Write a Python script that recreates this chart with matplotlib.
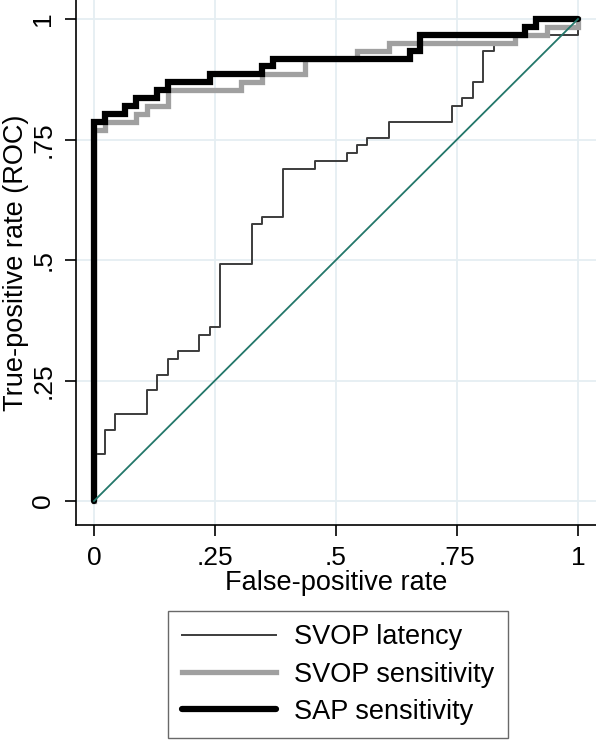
import matplotlib
matplotlib.use("Agg")
import matplotlib.pyplot as plt

plt.rcParams['font.family'] = ['Liberation Sans', 'DejaVu Sans']

# ROC step curves: x = left edge of each horizontal run, y = level of that run (steps-post)
latency_fpr = [0.0, 0.0, 0.022, 0.043, 0.109, 0.130, 0.152, 0.174, 0.217, 0.239, 0.261,
               0.326, 0.348, 0.391, 0.457, 0.522, 0.543, 0.565, 0.609, 0.739, 0.761,
               0.783, 0.804, 0.826, 0.870, 1.0]
latency_tpr = [0.0, 0.098, 0.148, 0.180, 0.230, 0.262, 0.295, 0.311, 0.344, 0.361, 0.492,
               0.574, 0.590, 0.689, 0.705, 0.721, 0.738, 0.754, 0.787, 0.820, 0.836,
               0.869, 0.934, 0.951, 0.967, 1.0]

svop_fpr = [0.0, 0.0, 0.022, 0.087, 0.109, 0.152, 0.304, 0.348, 0.435, 0.543, 0.609,
            0.870, 0.935, 1.0]
svop_tpr = [0.0, 0.770, 0.787, 0.803, 0.820, 0.852, 0.869, 0.885, 0.918, 0.934, 0.951,
            0.967, 0.984, 1.0]

sap_fpr = [0.0, 0.0, 0.022, 0.065, 0.087, 0.130, 0.152, 0.239, 0.348, 0.370, 0.652,
           0.674, 0.891, 0.913, 1.0]
sap_tpr = [0.0, 0.787, 0.803, 0.820, 0.836, 0.852, 0.869, 0.885, 0.902, 0.918, 0.934,
           0.967, 0.984, 1.0, 1.0]

ref_line = [0.0, 1.0]

series_labels = ["SVOP latency", "SVOP sensitivity", "SAP sensitivity"]
tick_values = [0, 0.25, 0.5, 0.75, 1]
tick_labels = ["0", ".25", ".5", ".75", "1"]
x_title = "False-positive rate"
y_title = "True-positive rate (ROC)"

W, H = 596, 743
fig = plt.figure(figsize=(W / 100, H / 100), dpi=100)
ax = fig.add_axes([76 / W, (H - 525) / H, 520 / W, 525 / H])

grid_c = "#e5eef2"
for v in tick_values:
    ax.axhline(v, color=grid_c, lw=1.3, zorder=0)
    ax.axvline(v, color=grid_c, lw=1.3, zorder=0)

l1, = ax.plot(latency_fpr, latency_tpr, drawstyle="steps-post", color="#3c3c3c",
              lw=1.4, zorder=2, label=series_labels[0])
l2, = ax.plot(svop_fpr, svop_tpr, drawstyle="steps-post", color="#a0a0a0",
              lw=3.8, zorder=3, label=series_labels[1], solid_joinstyle="miter")
l3, = ax.plot(sap_fpr, sap_tpr, drawstyle="steps-post", color="#000000",
              lw=4.5, zorder=4, label=series_labels[2], solid_joinstyle="miter",
              solid_capstyle="round")
ax.plot(ref_line, ref_line, color="#23776a", lw=1.3, zorder=5)

ax.set_xlim((76 - 94) / 484, (596 - 94) / 484)
ax.set_ylim((501 - 525) / 482, 501 / 482)

for s in ["top", "right"]:
    ax.spines[s].set_visible(False)
for s in ["left", "bottom"]:
    ax.spines[s].set_linewidth(1.2)
    ax.spines[s].set_color("#000000")

ax.set_xticks(tick_values)
ax.set_xticklabels(tick_labels)
ax.set_yticks(tick_values)
ax.set_yticklabels(tick_labels, rotation=90, va="center")
ax.tick_params(axis="both", direction="out", length=8, width=1.2, labelsize=19, pad=7)

ax.set_xlabel(x_title, fontsize=19.5, labelpad=0)
ax.set_ylabel(y_title, fontsize=19.5, va="center")
ax.yaxis.set_label_coords((16 - 76) / 520, 0.5)

leg = fig.legend(handles=[l1, l2, l3], labels=series_labels,
                 loc="center", bbox_to_anchor=(338 / W, 1 - 674.5 / H),
                 fontsize=19.5, frameon=True, fancybox=False,
                 handlelength=3.5, handletextpad=0.65, labelspacing=0.42,
                 borderpad=0.5, borderaxespad=0)
leg.get_frame().set_edgecolor("#444444")
leg.get_frame().set_linewidth(1.0)

fig.savefig("out.png", dpi=100)
